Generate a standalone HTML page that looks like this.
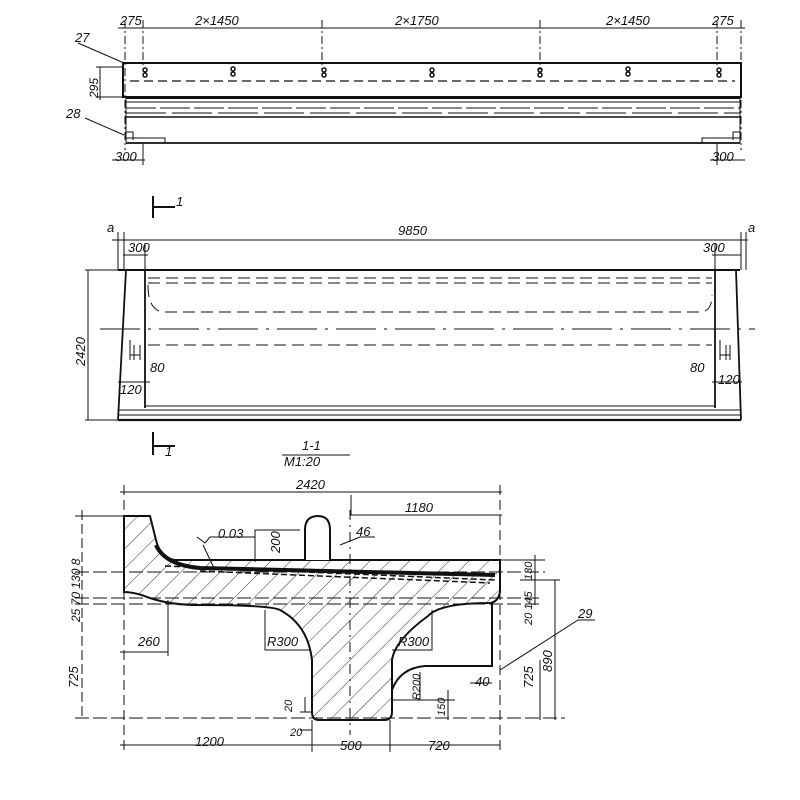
<!DOCTYPE html>
<html><head><meta charset="utf-8"><style>
html,body{margin:0;padding:0;background:#fff;}
svg{display:block}
text{font-family:"Liberation Sans",sans-serif;font-style:italic;font-size:13px;fill:#111}
</style></head><body>
<svg width="800" height="800" viewBox="0 0 800 800" xmlns="http://www.w3.org/2000/svg">
<defs>
<pattern id="h" patternUnits="userSpaceOnUse" width="14" height="14" patternTransform="rotate(45)">
<line x1="0" y1="0" x2="0" y2="14" stroke="#333" stroke-width="1"/>
</pattern>
</defs>
<g stroke="#111" fill="none" stroke-width="1">
<!-- TOP VIEW -->
<line x1="118" y1="28" x2="745" y2="28"/>
<g stroke-width="1" stroke-dasharray="8,3,2,3">
<line x1="125" y1="20" x2="125" y2="150"/><line x1="143" y1="20" x2="143" y2="65"/>
<line x1="322" y1="20" x2="322" y2="70"/><line x1="540" y1="20" x2="540" y2="70"/>
<line x1="717" y1="20" x2="717" y2="65"/><line x1="741" y1="20" x2="741" y2="150"/>
</g>
<rect x="123" y="63" width="618" height="34" stroke-width="2"/>
<line x1="130" y1="81" x2="735" y2="81" stroke-dasharray="9,5" stroke-width="1.3"/>
<line x1="126" y1="98" x2="740" y2="98" stroke-width="2"/>
<line x1="126" y1="102" x2="740" y2="102"/>
<line x1="126" y1="108" x2="740" y2="108" stroke-dasharray="30,4"/>
<line x1="126" y1="113" x2="740" y2="113" stroke-dasharray="40,6"/>
<line x1="126" y1="117" x2="740" y2="117" stroke-width="1.5"/>
<line x1="126" y1="98" x2="126" y2="143"/><line x1="740" y1="98" x2="740" y2="143"/>
<line x1="126" y1="143" x2="740" y2="143" stroke-width="1.8"/>
<path d="M126 138 H165 V143 M126 132 H133 V140 M740 138 H702 V143 M740 132 H733 V140"/>
<g stroke-width="1.5">
<circle cx="145" cy="70" r="2"/><circle cx="145" cy="75" r="2"/>
<circle cx="233" cy="69" r="2"/><circle cx="233" cy="74" r="2"/>
<circle cx="324" cy="70" r="2"/><circle cx="324" cy="75" r="2"/>
<circle cx="432" cy="70" r="2"/><circle cx="432" cy="75" r="2"/>
<circle cx="540" cy="70" r="2"/><circle cx="540" cy="75" r="2"/>
<circle cx="628" cy="69" r="2"/><circle cx="628" cy="74" r="2"/>
<circle cx="719" cy="70" r="2"/><circle cx="719" cy="75" r="2"/>
</g>
<line x1="78" y1="43" x2="124" y2="63"/>
<line x1="85" y1="118" x2="124" y2="135"/>
<line x1="100" y1="67" x2="100" y2="100"/><line x1="96" y1="67" x2="123" y2="67"/><line x1="96" y1="97" x2="123" y2="97"/>
<line x1="112" y1="160" x2="145" y2="160"/><line x1="710" y1="160" x2="745" y2="160"/>
<line x1="143" y1="143" x2="143" y2="165"/><line x1="717" y1="143" x2="717" y2="165"/>

<!-- MIDDLE VIEW -->
<path d="M153 196 V218 M153 207 H175 M153 432 V455 M153 446 H175" stroke-width="2"/>
<line x1="112" y1="240" x2="748" y2="240"/>
<line x1="124" y1="232" x2="124" y2="270"/><line x1="118" y1="232" x2="118" y2="270"/>
<line x1="145" y1="243" x2="145" y2="270"/><line x1="715" y1="243" x2="715" y2="270"/>
<line x1="741" y1="232" x2="741" y2="270"/><line x1="746" y1="232" x2="746" y2="270"/>
<line x1="123" y1="255" x2="148" y2="255"/><line x1="712" y1="255" x2="741" y2="255"/>
<line x1="85" y1="270" x2="118" y2="270"/><line x1="85" y1="420" x2="118" y2="420"/>
<line x1="88" y1="270" x2="88" y2="420"/>
<line x1="118" y1="270" x2="740" y2="270" stroke-width="2"/>
<path d="M126 270 L118 420 M145 270 V408 M715 270 V408 M736 270 L741 420" stroke-width="1.8"/>
<line x1="118" y1="420" x2="741" y2="420" stroke-width="2.2"/>
<line x1="118" y1="415" x2="741" y2="415"/>
<line x1="118" y1="410" x2="741" y2="410"/><line x1="145" y1="406" x2="715" y2="406"/>
<g stroke-dasharray="12,6">
<line x1="148" y1="278" x2="712" y2="278"/><line x1="148" y1="283" x2="712" y2="283"/>
<path d="M148 285 Q148 312 165 312 H700 Q712 312 712 295"/>
<line x1="148" y1="345" x2="712" y2="345"/>
</g>
<line x1="100" y1="329" x2="755" y2="329" stroke-dasharray="40,8,3,8"/>
<path d="M130 340 V360 M134 345 V360 M140 345 V360 M130 355 H140 M720 340 V360 M726 345 V360 M730 345 V360 M720 355 H730"/>
<line x1="118" y1="382" x2="150" y2="382"/><line x1="712" y1="382" x2="742" y2="382"/>
<line x1="282" y1="455" x2="350" y2="455"/>

<!-- SECTION -->
<line x1="120" y1="492" x2="502" y2="492"/>
<line x1="350" y1="515" x2="502" y2="515"/>
<line x1="124" y1="485" x2="124" y2="750" stroke-dasharray="10,5"/>
<line x1="500" y1="485" x2="500" y2="750" stroke-dasharray="10,5"/>
<line x1="350" y1="510" x2="350" y2="735" stroke-dasharray="10,5,2,5"/>
<line x1="75" y1="516" x2="124" y2="516"/>
<line x1="75" y1="572" x2="545" y2="572" stroke-dasharray="14,4"/>
<line x1="75" y1="598" x2="540" y2="598" stroke-dasharray="14,4"/>
<line x1="75" y1="604" x2="540" y2="604" stroke-dasharray="14,4"/>
<line x1="75" y1="718" x2="565" y2="718" stroke-dasharray="14,4"/>
<line x1="500" y1="560" x2="545" y2="560"/>
<line x1="535" y1="555" x2="535" y2="605"/>
<line x1="555" y1="580" x2="555" y2="720"/><line x1="520" y1="580" x2="560" y2="580"/>
<line x1="540" y1="660" x2="540" y2="720"/>
<line x1="82" y1="510" x2="82" y2="720" stroke-dasharray="10,4"/>
<line x1="120" y1="652" x2="168" y2="652"/><line x1="168" y1="600" x2="168" y2="656"/>
<line x1="120" y1="745" x2="500" y2="745"/>
<line x1="312" y1="720" x2="312" y2="752"/><line x1="390" y1="720" x2="390" y2="752"/>
<path d="M265 610 V650 H310 M432 610 V650 H392 M420 672 V700 H393 M420 700 H455 M448 690 V720"/>
<path d="M305 697 V712 M300 712 H312 M300 730 H312"/>
<path d="M470 683 H492 M500 670 L578 620 H595"/>
<path d="M351 495 V515 M300 530 H255 V562" />
<path d="M340 545 L360 537 H375"/>
<path d="M197 537 L205 543 L210 537 H255"/>
<path d="M203 545 L215 570"/>
<!-- body -->
<path d="M124 516 H150 L156 540 Q160 558 175 560 H500 V592 Q498 602 490 603 Q440 603 428 616 Q395 640 392 660 V712 Q392 720 384 720 H319 Q312 720 312 712 V660 Q308 625 280 610 Q270 605 200 605 Q170 605 150 598 Q135 592 124 592 Z" fill="url(#h)" stroke-width="2"/>
<path d="M392 690 Q400 668 425 666 H492 V603" stroke-width="2"/>
<path d="M156 545 Q165 565 200 568 L495 575" stroke-width="4"/>
<path d="M165 566 L495 580 M200 571 L490 583" stroke-width="1.5" stroke-dasharray="6,3"/>
<path d="M305 560 V530 Q305 516 318 516 Q330 516 330 530 V560" stroke-width="2" fill="#fff"/>
</g>
<!-- labels -->
<text x="120" y="25">275</text><text x="195" y="25">2×1450</text><text x="395" y="25">2×1750</text>
<text x="606" y="25">2×1450</text><text x="712" y="25">275</text>
<text x="75" y="42">27</text><text x="66" y="118">28</text>
<text x="98" y="98" transform="rotate(-90 98 98)" style="font-size:12px">295</text>
<text x="115" y="161">300</text><text x="712" y="161">300</text>
<text x="176" y="206">1</text><text x="165" y="456">1</text>
<text x="107" y="232">a</text><text x="748" y="232">a</text>
<text x="128" y="252">300</text><text x="398" y="235">9850</text><text x="703" y="252">300</text>
<text x="85" y="366" transform="rotate(-90 85 366)">2420</text>
<text x="150" y="372">80</text><text x="690" y="372">80</text>
<text x="120" y="394">120</text><text x="718" y="384">120</text>
<text x="302" y="450">1-1</text><text x="284" y="466">M1:20</text>
<text x="296" y="489">2420</text><text x="405" y="512">1180</text>
<text x="218" y="538">0.03</text><text x="356" y="536">46</text>
<text x="280" y="553" transform="rotate(-90 280 553)">200</text>
<text x="80" y="622" transform="rotate(-90 80 622)" style="font-size:12px">25 70 130 8</text>
<text x="138" y="646">260</text><text x="267" y="646">R300</text><text x="398" y="646">R300</text>
<text x="420" y="700" transform="rotate(-90 420 700)" style="font-size:11px">R200</text>
<text x="475" y="686">40</text>
<text x="445" y="716" transform="rotate(-90 445 716)" style="font-size:11px">150</text>
<text x="292" y="712" transform="rotate(-90 292 712)" style="font-size:11px">20</text>
<text x="290" y="736" style="font-size:11px">20</text>
<text x="78" y="688" transform="rotate(-90 78 688)">725</text>
<text x="533" y="688" transform="rotate(-90 533 688)">725</text>
<text x="552" y="672" transform="rotate(-90 552 672)">890</text>
<text x="532" y="580" transform="rotate(-90 532 580)" style="font-size:11px">130</text>
<text x="532" y="625" transform="rotate(-90 532 625)" style="font-size:11px">20 145</text>
<text x="578" y="618">29</text>
<text x="195" y="746">1200</text><text x="340" y="750">500</text><text x="428" y="750">720</text>
</svg>
</body></html>
